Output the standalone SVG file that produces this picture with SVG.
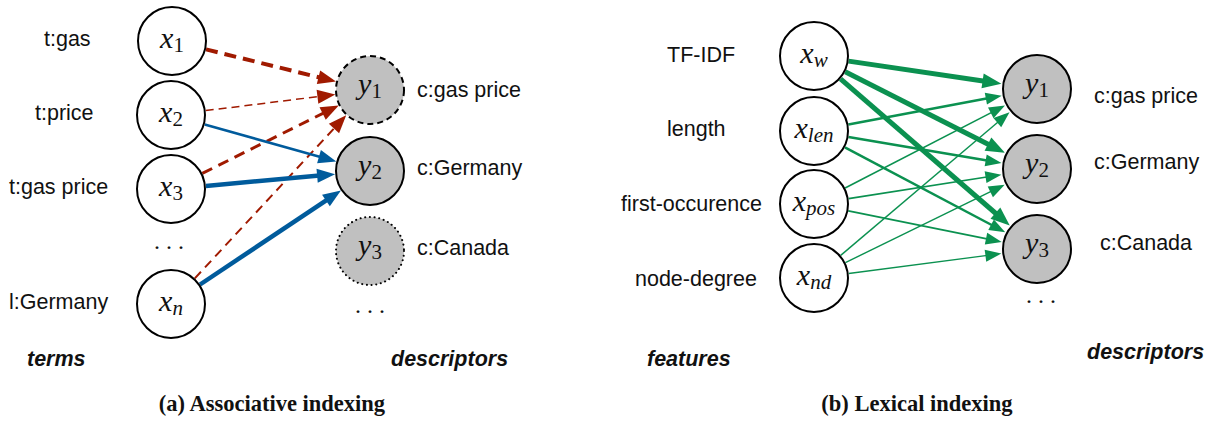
<svg xmlns="http://www.w3.org/2000/svg" width="1209" height="421" viewBox="0 0 1209 421">
<style>
.lbl{font-family:"Liberation Sans",Arial,sans-serif;font-size:21.5px;fill:#111}
.hd{font-family:"Liberation Sans",Arial,sans-serif;font-size:21.5px;font-weight:bold;font-style:italic;fill:#111}
.cap{font-family:"Liberation Serif","Times New Roman",serif;font-size:22.5px;font-weight:bold;fill:#111}
.m{font-family:"Liberation Serif","Times New Roman",serif;font-size:30px;fill:#111}
.mi{font-style:italic}
.sb{font-size:21px}
.dots{font-family:"Liberation Serif",serif;font-size:24px;fill:#111}
.nx{fill:#fff;stroke:#000;stroke-width:2}
.ny{fill:#c0c0c0;stroke:#000;stroke-width:2}
.red{stroke:#a01a00;fill:none}
.blue{stroke:#005b9c;fill:none}
.green{stroke:#0b9150;fill:none}
</style>
<defs>
<marker id="aR" markerUnits="userSpaceOnUse" markerWidth="20" markerHeight="16" refX="8" refY="7" orient="auto" overflow="visible"><path d="M0,0 L18,7 L0,14 z" fill="#a01a00"/></marker>
<marker id="aB" markerUnits="userSpaceOnUse" markerWidth="20" markerHeight="16" refX="8" refY="7" orient="auto" overflow="visible"><path d="M0,0 L18,7 L0,14 z" fill="#005b9c"/></marker>
<marker id="aG" markerUnits="userSpaceOnUse" markerWidth="20" markerHeight="16" refX="9" refY="7.5" orient="auto" overflow="visible"><path d="M0,0 L19,7.5 L0,15 z" fill="#0b9150"/></marker>
<marker id="aGs" markerUnits="userSpaceOnUse" markerWidth="18" markerHeight="14" refX="6" refY="6" orient="auto" overflow="visible"><path d="M0,0 L16,6 L0,12 z" fill="#0b9150"/></marker>
</defs>

<g id="connectors">
<line class="red" x1="206" y1="49.4" x2="326.3" y2="79.2" stroke-width="4" stroke-dasharray="12 7" marker-end="url(#aR)"/>
<line class="red" x1="205.7" y1="110.6" x2="325.4" y2="95.7" stroke-width="1.5" stroke-dasharray="8 5" marker-end="url(#aR)"/>
<line class="red" x1="202.3" y1="173.4" x2="329.8" y2="109.9" stroke-width="3" stroke-dasharray="11 7" marker-end="url(#aR)"/>
<line class="red" x1="194.8" y1="278.4" x2="339.4" y2="122.7" stroke-width="2" stroke-dasharray="9 6" marker-end="url(#aR)"/>
<line class="blue" x1="204.7" y1="124.5" x2="326.7" y2="158.8" stroke-width="2.5" marker-end="url(#aB)"/>
<line class="blue" x1="205.9" y1="185.9" x2="325.1" y2="175.1" stroke-width="4.5" marker-end="url(#aB)"/>
<line class="blue" x1="200.1" y1="284.5" x2="332.6" y2="196.1" stroke-width="4.5" marker-end="url(#aB)"/>

<line class="green" x1="848.6" y1="61.1" x2="991.5" y2="82.2" stroke-width="5" marker-end="url(#aG)"/>
<line class="green" x1="845.2" y1="71.8" x2="996.0" y2="148.2" stroke-width="5" marker-end="url(#aG)"/>
<line class="green" x1="840.5" y1="78.9" x2="1002.2" y2="219.0" stroke-width="5" marker-end="url(#aG)"/>
<line class="green" x1="848.4" y1="124.5" x2="991.8" y2="97.6" stroke-width="2.5" marker-end="url(#aGs)"/>
<line class="green" x1="848.5" y1="136.9" x2="991.6" y2="161.3" stroke-width="2.5" marker-end="url(#aGs)"/>
<line class="green" x1="844.9" y1="147.4" x2="996.4" y2="227.5" stroke-width="2.5" marker-end="url(#aGs)"/>
<line class="green" x1="845.1" y1="188.0" x2="996.1" y2="110.1" stroke-width="1.6" marker-end="url(#aGs)"/>
<line class="green" x1="848.6" y1="198.6" x2="991.5" y2="176.2" stroke-width="1.6" marker-end="url(#aGs)"/>
<line class="green" x1="848.3" y1="210.9" x2="991.9" y2="239.9" stroke-width="1.6" marker-end="url(#aGs)"/>
<line class="green" x1="840.7" y1="255.4" x2="1001.9" y2="118.8" stroke-width="1.4" marker-end="url(#aGs)"/>
<line class="green" x1="845.4" y1="262.6" x2="995.7" y2="189.2" stroke-width="1.4" marker-end="url(#aGs)"/>
<line class="green" x1="848.7" y1="273.5" x2="991.4" y2="254.9" stroke-width="1.4" marker-end="url(#aGs)"/>
</g>

<!-- Left panel: term nodes -->
<g id="x1"><circle class="nx" cx="172" cy="41" r="34"/><text class="m" x="172" y="48" text-anchor="middle"><tspan class="mi">x</tspan><tspan class="sb" dy="4">1</tspan></text></g>
<g id="x2"><circle class="nx" cx="171" cy="115" r="34"/><text class="m" x="171" y="122" text-anchor="middle"><tspan class="mi">x</tspan><tspan class="sb" dy="4">2</tspan></text></g>
<g id="x3"><circle class="nx" cx="171" cy="189" r="34"/><text class="m" x="171" y="196" text-anchor="middle"><tspan class="mi">x</tspan><tspan class="sb" dy="4">3</tspan></text></g>
<g id="xn"><circle class="nx" cx="171" cy="304" r="34"/><text class="m" x="171" y="311" text-anchor="middle"><tspan class="mi">x</tspan><tspan class="sb mi" dy="4">n</tspan></text></g>

<!-- Left panel: descriptor nodes -->
<g id="y1a"><circle class="ny" cx="370" cy="90" r="34" stroke-dasharray="6 4"/><text class="m" x="370" y="94" text-anchor="middle"><tspan class="mi">y</tspan><tspan class="sb" dy="4">1</tspan></text></g>
<g id="y2a"><circle class="ny" cx="370" cy="171" r="34"/><text class="m" x="370" y="175" text-anchor="middle"><tspan class="mi">y</tspan><tspan class="sb" dy="4">2</tspan></text></g>
<g id="y3a"><circle class="ny" cx="370" cy="251" r="34" stroke-width="2.6" stroke-dasharray="0.1 4.6" stroke-linecap="round"/><text class="m" x="370" y="255" text-anchor="middle"><tspan class="mi">y</tspan><tspan class="sb" dy="4">3</tspan></text></g>

<g id="labels-a">
<text class="lbl" x="44" y="46">t:gas</text>
<text class="lbl" x="35" y="120">t:price</text>
<text class="lbl" x="9" y="194">t:gas price</text>
<text class="lbl" x="9" y="309">l:Germany</text>
<text class="lbl" x="417" y="97">c:gas price</text>
<text class="lbl" x="417" y="175">c:Germany</text>
<text class="lbl" x="417" y="255">c:Canada</text>
<text class="dots" x="169" y="249" text-anchor="middle">. . .</text>
<text class="dots" x="370" y="313" text-anchor="middle">. . .</text>
<text class="hd" x="27" y="366">terms</text>
<text class="hd" x="391" y="366">descriptors</text>
<text class="cap" x="272" y="411" text-anchor="middle">(a) Associative indexing</text>
</g>

<!-- Right panel: feature nodes -->
<g id="xw"><circle class="nx" cx="814" cy="56" r="34"/><text class="m" x="814" y="63" text-anchor="middle"><tspan class="mi">x</tspan><tspan class="sb mi" dy="4">w</tspan></text></g>
<g id="xlen"><circle class="nx" cx="814" cy="131" r="34"/><text class="m" x="814" y="138" text-anchor="middle"><tspan class="mi">x</tspan><tspan class="sb mi" dy="4">len</tspan></text></g>
<g id="xpos"><circle class="nx" cx="814" cy="204" r="34"/><text class="m" x="814" y="211" text-anchor="middle"><tspan class="mi">x</tspan><tspan class="sb mi" dy="4">pos</tspan></text></g>
<g id="xnd"><circle class="nx" cx="814" cy="278" r="34"/><text class="m" x="814" y="285" text-anchor="middle"><tspan class="mi">x</tspan><tspan class="sb mi" dy="4">nd</tspan></text></g>

<!-- Right panel: descriptor nodes -->
<g id="y1b"><circle class="ny" cx="1037" cy="89" r="34"/><text class="m" x="1037" y="93" text-anchor="middle"><tspan class="mi">y</tspan><tspan class="sb" dy="4">1</tspan></text></g>
<g id="y2b"><circle class="ny" cx="1037" cy="169" r="34"/><text class="m" x="1037" y="173" text-anchor="middle"><tspan class="mi">y</tspan><tspan class="sb" dy="4">2</tspan></text></g>
<g id="y3b"><circle class="ny" cx="1037" cy="249" r="34"/><text class="m" x="1037" y="253" text-anchor="middle"><tspan class="mi">y</tspan><tspan class="sb" dy="4">3</tspan></text></g>

<g id="labels-b">
<text class="lbl" x="667" y="62">TF-IDF</text>
<text class="lbl" x="667" y="136">length</text>
<text class="lbl" x="621" y="211">first-occurence</text>
<text class="lbl" x="635" y="286">node-degree</text>
<text class="lbl" x="1094" y="103">c:gas price</text>
<text class="lbl" x="1094" y="169">c:Germany</text>
<text class="lbl" x="1100" y="250">c:Canada</text>
<text class="dots" x="1041" y="303" text-anchor="middle">. . .</text>
<text class="hd" x="647" y="366">features</text>
<text class="hd" x="1087" y="359">descriptors</text>
<text class="cap" x="917" y="411" text-anchor="middle">(b) Lexical indexing</text>
</g>
</svg>
